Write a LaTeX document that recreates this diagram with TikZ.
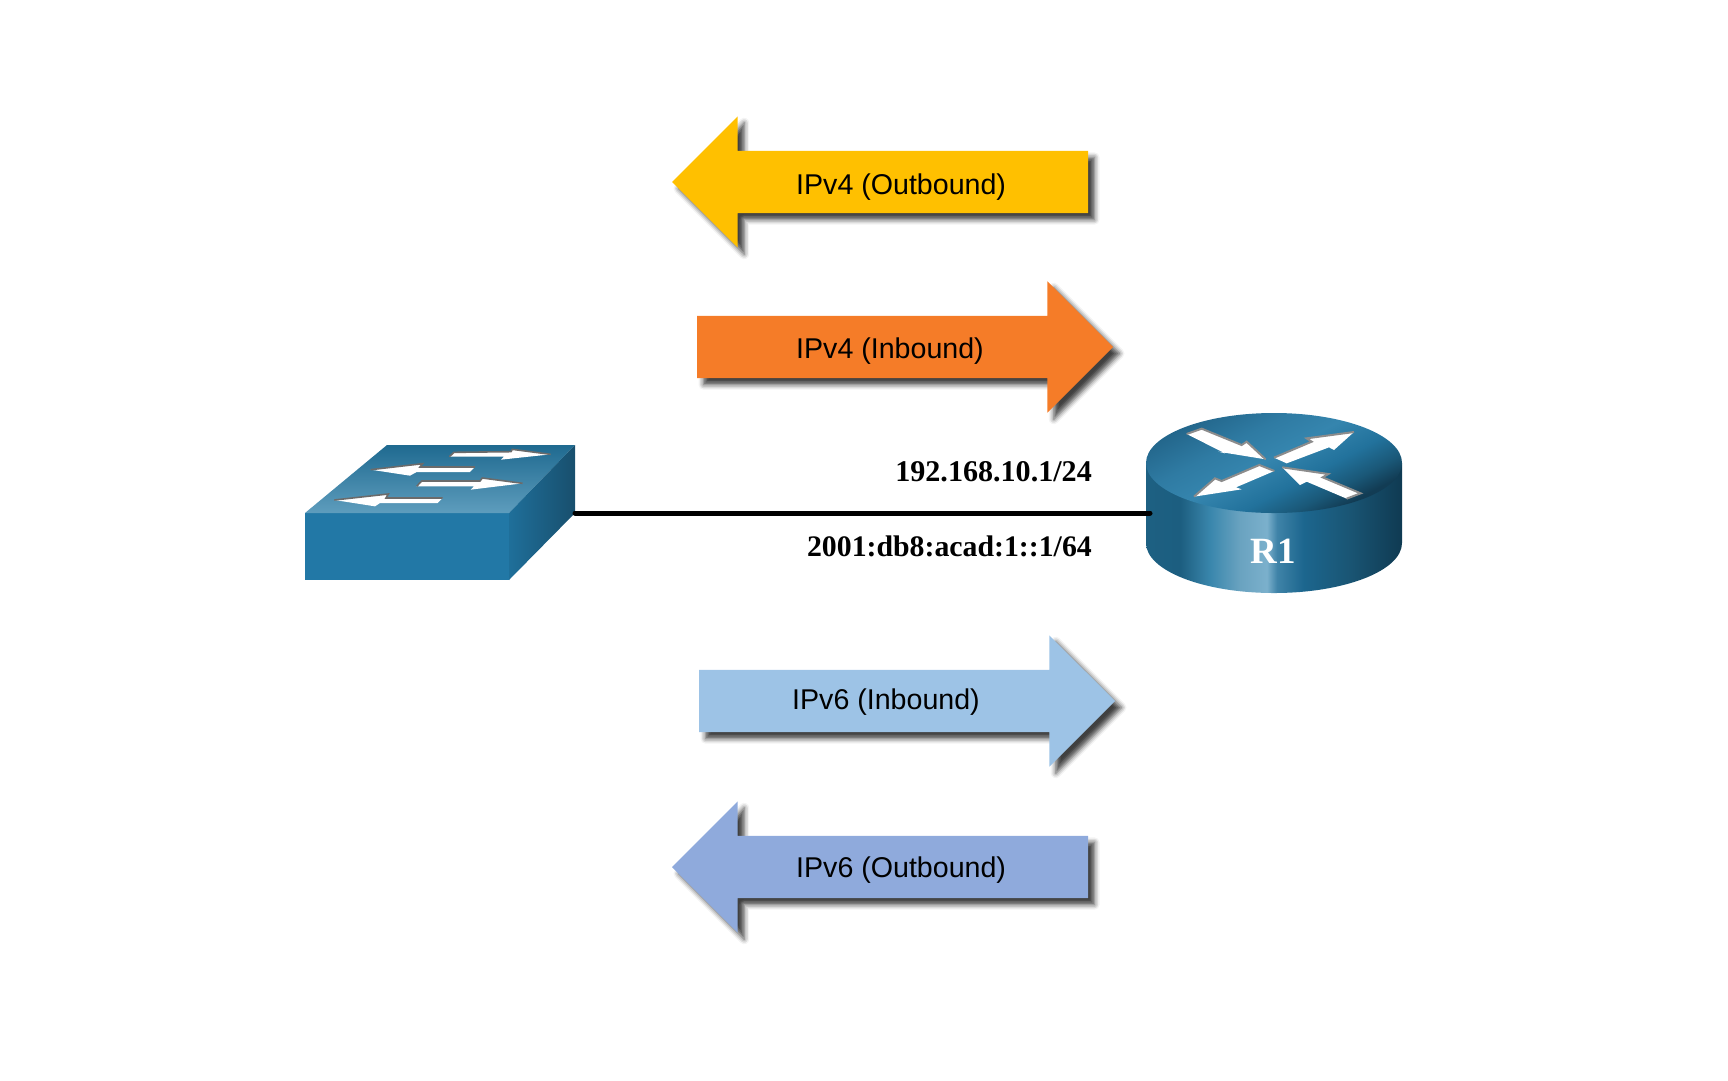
\documentclass[tikz,border=0pt]{standalone}
\usepackage{fontspec}
\setmainfont{Liberation Sans}
\newfontfamily\addrfont{Liberation Serif}
\usetikzlibrary{shapes.arrows, shadows.blur}

\definecolor{outFour}{HTML}{FFC000}
\definecolor{inFour}{HTML}{F57C28}
\definecolor{inSix}{HTML}{9DC3E6}
\definecolor{outSix}{HTML}{8FAADC}

\definecolor{rsA}{HTML}{1D6082}
\definecolor{rsB}{HTML}{1C5E80}
\definecolor{rsC}{HTML}{3A87AD}
\definecolor{rsD}{HTML}{6AA3C0}
\definecolor{rsE}{HTML}{7BB0CC}
\definecolor{rsF}{HTML}{3F83A8}
\definecolor{rsG}{HTML}{1C668E}
\definecolor{rsH}{HTML}{1A5675}
\definecolor{rsI}{HTML}{0F3A52}
\pgfdeclarehorizontalshading{routerSide}{100bp}{color(0bp)=(rsA); color(25bp)=(rsA); color(31.7bp)=(rsB); color(37.6bp)=(rsC); color(43.4bp)=(rsD); color(48.6bp)=(rsE); color(50.6bp)=(rsF); color(55.8bp)=(rsG); color(64.3bp)=(rsH); color(75bp)=(rsI); color(100bp)=(rsI)}
\definecolor{rtA}{HTML}{123C54}
\definecolor{rtB}{HTML}{1A5878}
\definecolor{rtC}{HTML}{22729C}
\definecolor{rtD}{HTML}{3585AE}
\definecolor{rtE}{HTML}{2F7BA3}
\definecolor{rtF}{HTML}{22658A}
\pgfdeclareverticalshading{routerTop}{100bp}{color(0bp)=(rtA); color(27bp)=(rtA); color(33bp)=(rtB); color(41bp)=(rtC); color(52bp)=(rtD); color(62bp)=(rtE); color(75bp)=(rtF); color(100bp)=(rtF)}

\tikzstyle{bigArrow} = [single arrow, minimum height=416pt, minimum width=131pt, inner xsep=0pt, inner ysep=31pt, outer sep=0pt, single arrow tip angle=90, single arrow head extend=34.5pt, blur shadow={shadow xshift=6.5pt, shadow yshift=-6.5pt, shadow blur radius=5pt, shadow opacity=75}]
\tikzstyle{arrowText} = [anchor=base west, inner sep=0pt, font=\fontsize{28.6}{34}\selectfont]
\tikzstyle{addrText} = [anchor=base east, inner sep=0pt, font=\addrfont\bfseries\fontsize{29.8}{36}\selectfont]
\tikzstyle{link} = [line width=5pt, line cap=round]
\tikzstyle{swEdge} = [draw=black!58, line width=1.6pt]
\tikzstyle{rtEdge} = [draw=black!45, line width=2pt]

\begin{document}
\begin{tikzpicture}[x=1pt, y=-1pt]
\useasboundingbox (0,0) rectangle (1728,1080);

% Arrows - top pair
\node[bigArrow, fill=outFour, shape border rotate=180, anchor=tip] (ipvFourOut) at (672,182) {};
\node[bigArrow, fill=inFour, anchor=tip] (ipvFourIn) at (1113,347) {};
\node[arrowText] (ipvFourOutText) at (796,194) {IPv4 (Outbound)};
\node[arrowText] (ipvFourInText) at (796,358) {IPv4 (Inbound)};

% Arrows - bottom pair
\node[bigArrow, fill=inSix, anchor=tip] (ipvSixIn) at (1115,701) {};
\node[bigArrow, fill=outSix, shape border rotate=180, anchor=tip] (ipvSixOut) at (672,867) {};
\node[arrowText] (ipvSixInText) at (792,709) {IPv6 (Inbound)};
\node[arrowText] (ipvSixOutText) at (796,877) {IPv6 (Outbound)};

% Switch
\fill[fill={rgb,255:red,34;green,120;blue,166}] (305,513) rectangle (509,580);
\shade[top color={rgb,255:red,31;green,106;blue,144}, bottom color={rgb,255:red,94;green,157;blue,189}] (305,513) -- (387,445) -- (575,445) -- (509,513) -- cycle;
\shade[left color={rgb,255:red,31;green,111;blue,154}, right color={rgb,255:red,24;green,79;blue,109}] (509,513) -- (575,445) -- (575,513) -- (509,580) -- cycle;
\begin{scope}[shift={(280,420)}, x=0.3333pt, y=-0.3333pt]
  \fill[white] (508,110) -- (522,97) -- (693,95) -- (697,88) -- (812,103) -- (663,119) -- (672,110) -- cycle;
  \draw[swEdge] (508,110) -- (522,97) -- (693,95) -- (697,88) -- (812,103);
  \fill[white] (272,149) -- (428,131) -- (420,141) -- (585,141) -- (570,156) -- (410,156) -- (390,167) -- cycle;
  \draw[swEdge] (272,149) -- (428,131) -- (420,141) -- (585,141);
  \fill[white] (410,199) -- (425,183) -- (600,183) -- (607,174) -- (728,190) -- (572,209) -- (582,199) -- cycle;
  \draw[swEdge] (410,199) -- (425,183) -- (600,183) -- (607,174) -- (728,190);
  \fill[white] (163,240) -- (325,222) -- (318,234) -- (488,234) -- (473,249) -- (300,249) -- (285,259) -- cycle;
  \draw[swEdge] (163,240) -- (325,222) -- (318,234) -- (488,234);
\end{scope}

% Router
\shade[shading=routerSide] (1146,463) -- (1146,543) .. controls (1146,570.6) and (1203.3,593) .. (1274,593) .. controls (1344.7,593) and (1402,570.6) .. (1402,543) -- (1402,463) -- cycle;
\shade[shading=routerTop, shading angle=28] (1274,463) ellipse (128 and 50);
\begin{scope}[shift={(1130,400)}, x=0.3333pt, y=-0.3333pt]
  \fill[white] (170,102) -- (215,86) -- (335,135) -- (350,125) -- (407,178) -- (265,155) -- (285,160) -- cycle;
  \draw[rtEdge] (170,102) -- (215,86) -- (335,135) -- (350,125) -- (407,178);
  \fill[white] (432,173) -- (545,125) -- (530,115) -- (672,96) -- (612,150) -- (597,142) -- (470,190) -- cycle;
  \draw[rtEdge] (432,173) -- (545,125) -- (530,115) -- (672,96);
  \fill[white] (192,290) -- (255,235) -- (275,243) -- (388,195) -- (433,213) -- (318,262) -- (335,268) -- cycle;
  \draw[rtEdge] (192,290) -- (255,235) -- (275,243) -- (388,195) -- (433,213);
  \fill[white] (457,202) -- (595,222) -- (578,232) -- (692,280) -- (650,296) -- (530,245) -- (510,255) -- cycle;
  \draw[rtEdge] (457,202) -- (595,222) -- (578,232) -- (692,280) -- (650,296);
\end{scope}
\node[text=white, inner sep=0pt, font=\addrfont\bfseries\fontsize{37}{44}\selectfont] (routerName) at (1273,551) {R1};

% Link and addresses
\coordinate (switchPort) at (575,513);
\coordinate (routerPort) at (1150,513);
\draw[link] (switchPort) -- (routerPort);
\node[addrText, font=\addrfont\bfseries\fontsize{30.1}{36}\selectfont] (addrFour) at (1092,481) {192.168.10.1/24};
\node[addrText] (addrSix) at (1092,556) {2001:db8:acad:1::1/64};

\end{tikzpicture}
\end{document}
